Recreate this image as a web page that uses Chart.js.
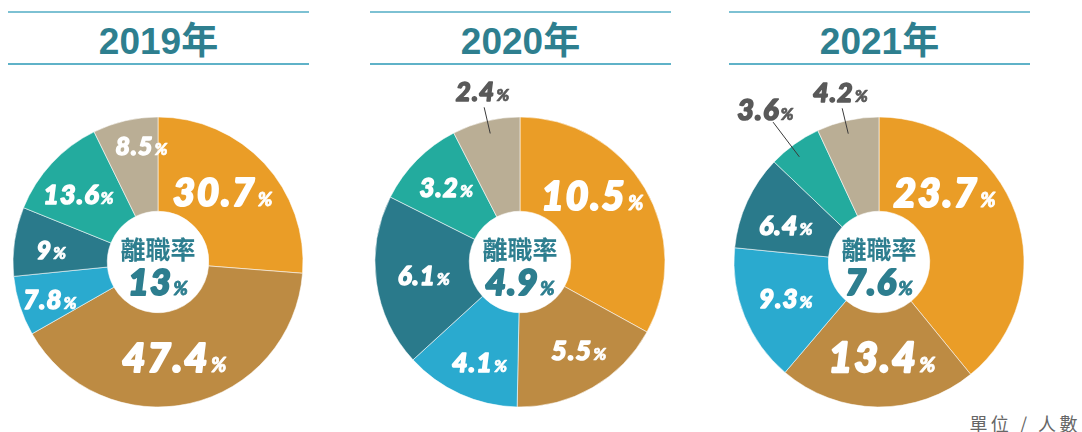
<!DOCTYPE html>
<html lang="zh-Hant">
<head>
<meta charset="utf-8">
<script src="https://cdn.jsdelivr.net/npm/chart.js@4.4.1/dist/chart.umd.min.js"></script>
<style>
  html, body { margin: 0; padding: 0; background: #fff; }
  body { width: 1082px; height: 432px; overflow: hidden; position: relative; }
  .title {
    position: absolute; top: 11px; width: 301px; height: 50px;
    border-top: 2px solid #7dc1d3; border-bottom: 2px solid #5fb2c8;
    display: flex; align-items: center; justify-content: center;
    font: bold 37px "Liberation Sans", "Noto Sans CJK TC", sans-serif;
    color: #2e7f8f;
  }
  canvas { position: absolute; }
  .unit {
    position: absolute; right: 1px; top: 410px;
    font: 18px "Noto Sans CJK TC", sans-serif; color: #666; letter-spacing: 3.5px;
  }
</style>
</head>
<body>
<div class="unit">單位 / 人數</div>
<script>
// Turnover rate (%) per group, one array per year
const years = ['2019年', '2020年', '2021年'];
const rates2019 = [30.7, 47.4, 7.8, 9, 13.6, 8.5];
const rates2020 = [10.5, 5.5, 4.1, 6.1, 3.2, 2.4];
const rates2021 = [23.7, 13.4, 9.3, 6.4, 3.6, 4.2];
// Overall turnover rate shown in the middle of each ring
const overallRates = [13, 4.9, 7.6];

// Segment colours (same order in every year)
const sliceColors = ['#ea9d27', '#bd8b43', '#2aaacf', '#2a7a8b', '#23ab9e', '#baae95'];

// Label styling per ring: font size, position along the arc (0..1) and radius factor
const labelSize2019 = [38, 40, 26, 25, 27, 25];
const labelT2019    = [0.455, 0.52, 0.43, 0.44, 0.44, 0.69];
const labelR2019    = [0.655, 0.67, 0.79, 0.74, 0.72, 0.81];
const outside2019   = [false, false, false, false, false, false];

const labelSize2020 = [39, 27, 27, 26, 26, 26];
const labelT2020    = [0.40, 0.44, 0.45, 0.50, 0.51, 0.52];
const labelR2020    = [0.675, 0.73, 0.745, 0.67, 0.72, 1.095];
const outside2020   = [false, false, false, false, false, true];

const labelSize2021 = [39, 41, 26, 27, 29, 27];
const labelT2021    = [0.31, 0.47, 0.51, 0.41, 0.43, 0.46];
const labelR2021    = [0.655, 0.66, 0.69, 0.69, 1.21, 1.09];
const outside2021   = [false, false, false, false, true, true];

const panels = [
  { year: years[0], data: rates2019, overall: overallRates[0], cx: 158, size: labelSize2019, t: labelT2019, r: labelR2019, out: outside2019 },
  { year: years[1], data: rates2020, overall: overallRates[1], cx: 520, size: labelSize2020, t: labelT2020, r: labelR2020, out: outside2020 },
  { year: years[2], data: rates2021, overall: overallRates[2], cx: 879, size: labelSize2021, t: labelT2021, r: labelR2021, out: outside2021 }
];

const CY = 262;          // vertical centre of the rings
const CANVAS_W = 340, CANVAS_H = 384;
const NUM_FONT = 'Lato, "Open Sans", sans-serif';
const TEAL = '#2d7e8f';

// Draws "value" + smaller "%" centred on (x, y), slightly tracked and emboldened
function drawValue(ctx, value, x, y, size, color, pctSize) {
  const num = String(value);
  const track = Math.round(size * 0.04);
  ctx.fillStyle = color;
  ctx.strokeStyle = color;
  ctx.lineJoin = 'round';
  ctx.textBaseline = 'alphabetic';
  ctx.textAlign = 'left';
  ctx.letterSpacing = track + 'px';
  ctx.font = `italic 900 ${size}px ${NUM_FONT}`;
  const wNum = ctx.measureText(num).width;
  ctx.letterSpacing = '0px';
  ctx.font = `italic 900 ${pctSize}px ${NUM_FONT}`;
  const wPct = ctx.measureText('%').width;
  const gap = size * 0.04;
  const total = wNum + gap + wPct;
  const left = x - total / 2;
  const base = y + size * 0.36;
  ctx.letterSpacing = track + 'px';
  ctx.font = `italic 900 ${size}px ${NUM_FONT}`;
  ctx.lineWidth = size * 0.055;
  ctx.strokeText(num, left, base);
  ctx.fillText(num, left, base);
  ctx.letterSpacing = '0px';
  ctx.font = `italic 900 ${pctSize}px ${NUM_FONT}`;
  ctx.lineWidth = pctSize * 0.04;
  ctx.strokeText('%', left + wNum + gap, base);
  ctx.fillText('%', left + wNum + gap, base);
}

const sliceLabels = {
  id: 'sliceLabels',
  afterDatasetsDraw(chart, args, opts) {
    const p = opts.panel;
    const ctx = chart.ctx;
    const meta = chart.getDatasetMeta(0);
    ctx.save();
    meta.data.forEach((arc, i) => {
      const { x, y, startAngle, endAngle, outerRadius } =
        arc.getProps(['x', 'y', 'startAngle', 'endAngle', 'outerRadius'], true);
      const a = startAngle + (endAngle - startAngle) * p.t[i];
      const cos = Math.cos(a), sin = Math.sin(a);
      const size = p.size[i];
      const pct = Math.max(17, Math.round(size * 0.5));
      const value = chart.data.datasets[0].data[i];
      if (p.out[i]) {
        const r0 = outerRadius * 0.91, r1 = outerRadius * p.r[i];
        ctx.strokeStyle = '#3a3a3a';
        ctx.lineWidth = 1;
        ctx.beginPath();
        ctx.moveTo(x + cos * r0, y + sin * r0);
        ctx.lineTo(x + cos * r1, y + sin * r1);
        ctx.stroke();
        const rt = r1 + 16;
        drawValue(ctx, value, x + cos * rt + 2, y + sin * rt, size, '#595959', pct);
      } else {
        const rr = outerRadius * p.r[i];
        drawValue(ctx, value, x + cos * rr, y + sin * rr, size, '#ffffff', pct);
      }
    });
    // centre caption and overall rate
    const c = meta.data[0];
    ctx.fillStyle = TEAL;
    ctx.textAlign = 'center';
    ctx.textBaseline = 'middle';
    ctx.letterSpacing = '0px';
    ctx.font = 'bold 25px "Noto Sans CJK TC", sans-serif';
    ctx.fillText('離職率', c.x, c.y - 13);
    drawValue(ctx, p.overall, c.x, c.y + 20, 36, TEAL, 19);
    ctx.restore();
  }
};

panels.forEach(p => {
  const title = document.createElement('div');
  title.className = 'title';
  title.style.left = (p.cx - 150) + 'px';
  title.textContent = p.year;
  document.body.appendChild(title);

  const cv = document.createElement('canvas');
  cv.width = CANVAS_W; cv.height = CANVAS_H;
  cv.style.width = CANVAS_W + 'px'; cv.style.height = CANVAS_H + 'px';
  cv.style.left = (p.cx - CANVAS_W / 2) + 'px';
  cv.style.top = (CY - CANVAS_H / 2) + 'px';
  document.body.appendChild(cv);

  new Chart(cv, {
    type: 'doughnut',
    data: {
      datasets: [{
        data: p.data,
        backgroundColor: sliceColors,
        borderColor: 'rgba(255,255,255,0.55)',
        borderWidth: 1
      }]
    },
    options: {
      responsive: false,
      animation: false,
      devicePixelRatio: 1,
      radius: 145,
      cutout: '35%',
      layout: { padding: 0 },
      plugins: {
        legend: { display: false },
        tooltip: { enabled: false },
        sliceLabels: { panel: p }
      }
    },
    plugins: [sliceLabels]
  });
});
</script>
</body>
</html>
